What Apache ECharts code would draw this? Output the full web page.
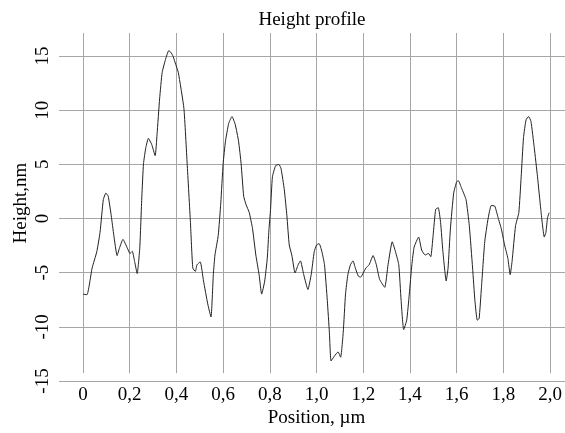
<!DOCTYPE html>
<html>
<head>
<meta charset="utf-8">
<script src="https://cdn.jsdelivr.net/npm/echarts@6/dist/echarts.min.js"></script>
<style>
html,body{margin:0;padding:0;background:#fff;}
#chart{width:565px;height:433px;}
</style>
</head>
<body>
<div id="chart"></div>
<script>
const positions = [0,0.017,0.039,0.059,0.073,0.087,0.098,0.108,0.121,0.132,0.146,0.156,0.171,0.19,0.201,0.211,0.221,0.232,0.243,0.252,0.259,0.269,0.28,0.294,0.309,0.317,0.328,0.339,0.353,0.367,0.376,0.386,0.397,
0.408,0.432,0.446,0.46,0.47,0.481,0.488,0.502,0.516,0.534,0.548,0.558,0.565,0.579,0.59,0.6,0.61,0.624,0.638,0.652,0.666,0.677,0.688,0.698,0.712,0.726,0.74,0.754,0.765,0.778,0.789,0.796,
0.803,0.811,0.825,0.839,0.848,0.862,0.873,0.883,0.894,0.908,0.921,0.931,0.945,0.963,0.977,0.99,1.0,1.011,1.023,1.034,1.046,1.055,1.062,1.076,1.092,1.103,1.114,1.124,1.134,1.145,1.156,1.166,1.179,1.189,
1.2,1.211,1.225,1.242,1.256,1.27,1.292,1.306,1.324,1.338,1.352,1.362,1.373,1.386,1.397,1.408,1.418,1.437,1.45,1.465,1.479,1.489,1.499,1.51,1.521,1.531,1.541,1.555,1.563,1.573,1.587,
1.6,1.607,1.621,1.64,1.654,1.668,1.678,1.688,1.696,1.706,1.72,1.734,1.748,1.763,1.777,1.791,1.805,1.819,1.829,1.837,1.852,1.866,1.876,1.886,1.897,1.908,1.918,1.932,1.946,1.96,1.975,1.982,1.989,1.996];
const heights = [-7.54,-7.6,-5.08,-3.54,-1.7,1.38,2.0,1.7,-0.15,-2.0,-3.9,-3.2,-2.37,-3.2,-3.7,-3.5,-4.46,-5.6,-3.2,1.7,4.77,6.3,7.17,6.6,5.54,7.54,10.9,13.4,14.6,15.45,15.3,14.9,14.15,
13.4,10.0,4.77,-0.77,-5.08,-5.4,-4.77,-4.5,-6.3,-8.46,-9.7,-5.7,-3.85,-2.0,1.08,4.77,6.9,8.6,9.23,8.46,6.9,4.77,1.7,0.92,0.15,-1.38,-3.85,-5.7,-7.54,-6.3,-4.15,-1.5,
0.46,3.54,4.6,4.7,4.3,2.3,-0.15,-2.9,-3.85,-5.54,-4.77,-4.4,-5.7,-7.1,-5.7,-3.54,-2.9,-2.77,-3.54,-4.77,-8.15,-11.2,-13.85,-13.4,-13.0,-13.5,-11.2,-7.54,-5.7,-4.77,-4.4,-5.08,-5.85,-5.94,
-5.54,-5.08,-4.77,-3.9,-4.77,-6.15,-6.9,-4.77,-2.6,-3.54,-4.77,-8.15,-10.9,-10.0,-7.54,-4.77,-3.08,-2.15,-3.38,-3.85,-3.7,-4.0,-2.0,0.46,0.62,-0.77,-3.54,-6.3,-5.08,-1.38,2.0,
3.08,3.17,2.46,1.38,-1.08,-5.08,-8.15,-10.0,-9.85,-6.9,-2.6,-0.46,0.83,0.77,-0.3,-1.38,-2.9,-4.15,-5.7,-4.46,-1.08,0.15,3.54,7.23,8.92,9.23,8.77,6.3,3.54,0.46,-2.15,-1.7,-0.3,0.15];
const xTicks = [0,0.2,0.4,0.6,0.8,1.0,1.2,1.4,1.6,1.8,2.0];
const yTicks = [-15,-10,-5,0,5,10,15];

const serif = 'Liberation Serif, Times New Roman, serif';
const gridColor = '#a6a6a6';
const fs = 19;
const data = positions.map((p, i) => [p, heights[i]]);

const chart = echarts.init(document.getElementById('chart'), null, {renderer: 'canvas'});
chart.setOption({
  animation: false,
  backgroundColor: '#fff',
  title: {
    text: 'Height profile',
    left: 312, top: 11, padding: 0, textAlign: 'center',
    textStyle: {fontFamily: serif, fontSize: fs, fontWeight: 'normal', color: '#000'}
  },
  grid: [
    {left: 83, right: 10, top: 33, bottom: 52},
    {left: 59, right: 0, top: 56, bottom: 52}
  ],
  xAxis: [
    {
      type: 'value', gridIndex: 0, min: xTicks[0], max: xTicks[xTicks.length - 1], interval: 0.2,
      axisLine: {show: false}, axisTick: {show: false},
      splitLine: {show: true, lineStyle: {color: gridColor, width: 1}},
      axisLabel: {
        margin: 12, fontFamily: serif, fontSize: fs, color: '#000',
        formatter: v => v === 0 ? '0' : v.toFixed(1).replace('.', ',')
      },
      name: 'Position, µm', nameLocation: 'middle', nameGap: 33,
      nameTextStyle: {fontFamily: serif, fontSize: fs, color: '#000'}
    },
    {type: 'value', gridIndex: 1, min: 0, max: 1, show: false}
  ],
  yAxis: [
    {
      type: 'value', gridIndex: 0, min: -15, max: 17.12,
      axisLine: {show: false}, axisTick: {show: false}, axisLabel: {show: false},
      splitLine: {show: false},
      name: 'Height,nm', nameLocation: 'middle', nameGap: 52, nameRotate: 90,
      nameTextStyle: {fontFamily: serif, fontSize: fs, color: '#000'}
    },
    {
      type: 'value', gridIndex: 1, min: yTicks[0], max: yTicks[yTicks.length - 1], interval: 5,
      axisLine: {show: false}, axisTick: {show: false},
      splitLine: {show: true, lineStyle: {color: gridColor, width: 1}},
      axisLabel: {rotate: 90, margin: 6, fontFamily: serif, fontSize: fs, color: '#000'}
    }
  ],
  series: [{
    type: 'line', xAxisIndex: 0, yAxisIndex: 0, data: data,
    showSymbol: false, smooth: 0.15,
    lineStyle: {color: '#222', width: 1}
  }]
});
</script>
</body>
</html>
